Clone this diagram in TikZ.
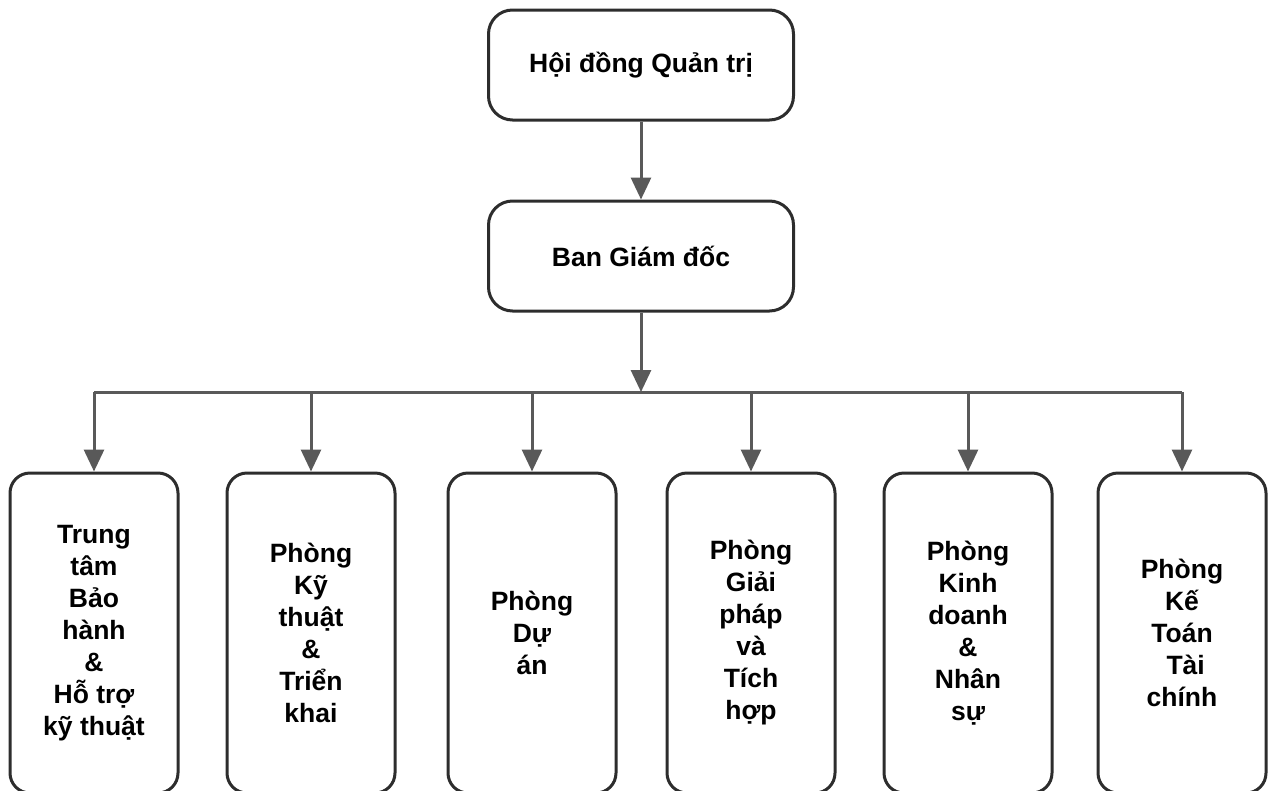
\documentclass[tikz,border=0pt]{standalone}
\usepackage{fontspec}
\setmainfont{Liberation Sans}
\usetikzlibrary{arrows.meta}
\definecolor{boxline}{RGB}{45,45,45}
\definecolor{arrline}{RGB}{89,89,89}
\begin{document}
\begin{tikzpicture}[x=1pt,y=-1pt,
  box/.style={draw=boxline,line width=3pt,rounded corners=24pt,inner sep=0pt,
    minimum width=305pt,minimum height=110pt,align=center,
    font=\fontsize{26.5}{32}\selectfont\bfseries},
  unit/.style={draw=boxline,line width=3pt,rounded corners=20pt,inner sep=0pt,
    minimum width=168pt,minimum height=320pt,align=center,
    font=\fontsize{26.5}{32}\selectfont\bfseries},
  arr/.style={draw=arrline,line width=3pt,-{Triangle[width=20pt,length=22pt]}},
  bus/.style={draw=arrline,line width=3pt}]
\useasboundingbox (0,0) rectangle (1272,790);
\node[box] (hdqt) at (641,65) {Hội đồng Quản trị};
\node[box] (bgd) at (641,256) {Ban Giám đốc};
\node[unit] (b1) at (94,633) {Trung\\tâm\\Bảo\\hành\\\&\\Hỗ trợ\\kỹ thuật};
\node[unit] (b2) at (311,633) {Phòng\\Kỹ\\thuật\\\&\\Triển\\khai};
\node[unit] (b3) at (532,633) {Phòng\\Dự\\án};
\node[unit] (b4) at (751,633) {Phòng\\Giải\\pháp\\và\\Tích\\hợp};
\node[unit] (b5) at (968,633) {Phòng\\Kinh\\doanh\\\&\\Nhân\\sự};
\node[unit] (b6) at (1182,633) {Phòng\\Kế\\Toán\\\ Tài\\chính};
\coordinate (busc) at (641,392);
\draw[arr] (hdqt.south) -- (bgd.north);
\draw[arr] (bgd.south) -- (busc);
\draw[bus] (b1.north |- busc) -- (b6.north |- busc);
\foreach \b in {b1,b2,b3,b4,b5,b6}
  \draw[arr] (\b.north |- busc) -- (\b.north);
\end{tikzpicture}
\end{document}
